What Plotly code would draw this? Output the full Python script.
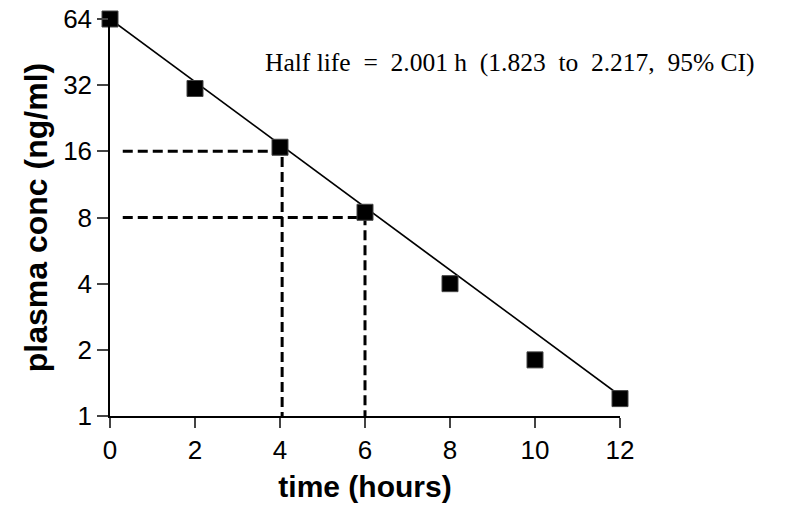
import plotly.graph_objects as go
import math

# data
time_h = [0, 2, 4, 6, 8, 10, 12]
conc = [64, 30.9, 16.7, 8.45, 4.0, 1.8, 1.2]
fit_x = [0, 12]
fit_y = [64, 1.24]
guide_conc = [16, 8]
guide_time = [4.05, 6.0]
y_ticks = [1, 2, 4, 8, 16, 32, 64]
x_ticks = [0, 2, 4, 6, 8, 10, 12]
note = "Half life\u00a0\u00a0=\u00a0\u00a02.001 h\u00a0\u00a0(1.823\u00a0\u00a0to\u00a0\u00a02.217,\u00a0\u00a095% CI)"

fig = go.Figure()

# dashed guide lines
for gy, gx in zip(guide_conc, guide_time):
    fig.add_trace(go.Scatter(x=[0.3, gx, gx], y=[gy, gy, y_ticks[0]], mode="lines",
                             line=dict(color="black", width=3, dash="10px,5px"),
                             hoverinfo="skip", showlegend=False, cliponaxis=False))

fig.add_trace(go.Scatter(x=fit_x, y=fit_y, mode="lines",
                         line=dict(color="black", width=1.7),
                         showlegend=False, cliponaxis=False))
fig.add_trace(go.Scatter(x=time_h, y=conc, mode="markers",
                         marker=dict(symbol="square", size=16, color="black",
                                     line=dict(color="#444", width=1)),
                         showlegend=False, cliponaxis=False))

tick_font = dict(family="Liberation Sans, Arial, sans-serif", color="black", size=26)

fig.update_layout(
    width=787, height=505,
    margin=dict(l=110, r=167, t=19, b=89),
    paper_bgcolor="white", plot_bgcolor="white",
    font=dict(family="Liberation Sans, Arial, sans-serif", color="black", size=23),
    xaxis=dict(range=[0, 12], tickvals=x_ticks, ticks="outside", ticklen=10,
               tickwidth=1.5, showline=True, linecolor="black", linewidth=1.5,
               showgrid=False, zeroline=False, automargin=False, tickfont=tick_font,
               ticklabeloverflow="allow",
               title=dict(text="<b>time (hours)</b>", font=dict(size=30), standoff=12)),
    yaxis=dict(type="log", range=[0, math.log10(64)], tickvals=y_ticks,
               ticktext=[str(v) for v in y_ticks], ticks="outside", ticklen=11,
               tickwidth=1.5, showline=True, linecolor="black", linewidth=1.5,
               showgrid=False, zeroline=False, automargin=False, tickfont=tick_font,
               ticklabeloverflow="allow",
               title=dict(text="<b>plasma conc (ng/ml)</b>", font=dict(size=32), standoff=6)),
)
fig.add_annotation(x=3.6, y=math.log10(40.4), xref="x", yref="y", text=note,
                   showarrow=False, xanchor="left", yanchor="middle",
                   font=dict(family="Liberation Serif, Times New Roman, serif", size=25.5))

fig.write_html("out.html", config={"displayModeBar": False},
               post_script="document.body.style.margin='0';document.body.style.overflow='hidden';")
